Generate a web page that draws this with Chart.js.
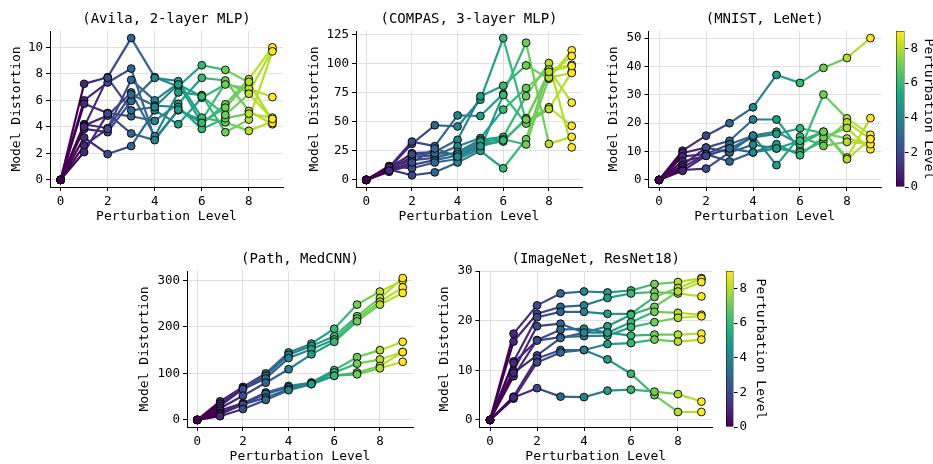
<!DOCTYPE html>
<html>
<head>
<meta charset="utf-8">
<script src="https://cdn.jsdelivr.net/npm/chart.js@4.4.0/dist/chart.umd.min.js"></script>
<style>
body { margin:0; background:#fff; width:933px; height:464px; overflow:hidden; position:relative; }
canvas { position:absolute; }
</style>
</head>
<body>
<script>
// perturbation levels (x) and shared ticks
const levels = [0, 1, 2, 3, 4, 5, 6, 7, 8, 9];
const xTicks = [0, 2, 4, 6, 8];
const cbTicks = [0, 2, 4, 6, 8];
const xLabel = 'Perturbation Level';
const yLabel = 'Model Distortion';

const avilaTitle = '(Avila, 2-layer MLP)';
const avilaTicks = [0, 2, 4, 6, 8, 10];
const avila = [
  [0, 7.25, 7.75, 10.7, 7.75, 7.05, 8.65, 8.3, 7.35, 4.5],
  [0, 6.0, 7.35, 8.4, 3.1, 5.25, 4.5, 7.3, 6.6, 9.85],
  [0, 5.75, 5.05, 4.8, 4.45, 5.75, 7.7, 7.5, 5.2, 4.2],
  [0, 4.2, 3.9, 7.55, 6.0, 7.3, 4.25, 5.7, 7.6, 10.0],
  [0, 4.1, 4.85, 6.6, 3.3, 6.6, 6.4, 3.6, 4.55, 9.7],
  [0, 3.85, 3.6, 5.95, 7.7, 7.45, 4.7, 4.35, 3.7, 4.4],
  [0, 3.2, 1.95, 2.55, 5.25, 4.2, 6.2, 7.2, 6.9, 6.25],
  [0, 2.6, 3.85, 6.45, 5.6, 5.5, 3.85, 4.65, 5.0, 4.7],
  [0, 2.1, 5.0, 3.5, 3.0, 5.3, 4.3, 5.45, 7.4, 4.3],
  [0, 4.0, 7.7, 5.25, 5.5, 7.2, 6.3, 4.9, 6.5, 4.6]
];

const compasTitle = '(COMPAS, 3-layer MLP)';
const compasTicks = [0, 25, 50, 75, 100, 125];
const compas = [
  [0, 10, 31, 47, 46, 69, 122, 50.5, 62.5, 46.5],
  [0, 11, 33, 29, 55.5, 55, 74, 118, 31, 37],
  [0, 9, 23, 24, 34.5, 72, 81, 98.5, 87, 111.5],
  [0, 8, 20, 21, 29, 36, 60.5, 79, 95, 66.5],
  [0, 10, 17, 19, 24, 34.5, 37, 72, 100.5, 28],
  [0, 7, 13, 17, 21, 31, 33, 53, 90.5, 106.5],
  [0, 12, 10, 15, 18, 27, 73, 48.5, 61, 93],
  [0, 9, 4, 6.5, 15, 25, 10, 35, 95, 99],
  [0, 11, 22, 23, 22, 33, 35, 30.5, 88, 92],
  [0, 8, 15, 27, 20, 29, 34, 52, 93, 98]
];

const mnistTitle = '(MNIST, LeNet)';
const mnistTicks = [0, 10, 20, 30, 40, 50];
const mnist = [
  [0, 10.3, 15.6, 20, 25.6, 37, 34.2, 39.5, 43, 50],
  [0, 9.5, 11.4, 13.8, 21.3, 21.3, 10.6, 30.1, 21.7, 15.9],
  [0, 8.3, 9.1, 12.6, 15.6, 17, 12.6, 17, 7.9, 21.8],
  [0, 6.5, 8.5, 11.1, 15, 16.2, 18.2, 16.5, 14.6, 12.6],
  [0, 5.2, 11.4, 9.7, 12.4, 11.1, 9.7, 13.6, 20.3, 14.4],
  [0, 4.4, 9.1, 6.5, 9.7, 12.6, 8.7, 15, 18.3, 10.8],
  [0, 3.5, 4.0, 9.7, 15.6, 5.2, 15.3, 12, 13.4, 12.6],
  [0, 3.2, 8.5, 11.1, 9.7, 11.1, 13.8, 17, 7.3, 14.4]
];

const pathTitle = '(Path, MedCNN)';
const pathTicks = [0, 100, 200, 300];
const path = [
  [0, 40, 71, 100, 145, 164, 196, 248, 276, 300],
  [0, 35, 68, 95, 140, 159, 180, 223, 262, 305],
  [0, 30, 66, 89, 133, 152, 173, 218, 254, 285],
  [0, 25, 52, 80, 109, 141, 168, 212, 248, 273],
  [0, 20, 36, 59, 73, 80.5, 107, 135, 150, 168],
  [0, 15, 33, 56, 70, 79, 102, 121, 130, 146],
  [0, 12, 33, 48, 66, 77, 95, 102, 116, 146],
  [0, 8, 23.5, 43, 64, 77, 95, 98, 111, 125]
];

const imagenetTitle = '(ImageNet, ResNet18)';
const imagenetTicks = [0, 10, 20, 30];
const imagenet = [
  [0, 17.4, 23.1, 25.5, 25.9, 25.7, 26.1, 27.4, 27.8, 28.6],
  [0, 15.8, 21.4, 22.8, 23.1, 24.6, 25.5, 25.8, 25.5, 24.9],
  [0, 11.8, 20.7, 21.8, 21.8, 21.4, 21.4, 24.8, 26.6, 28.4],
  [0, 9.9, 18.9, 19.4, 17.6, 18.9, 21.2, 22.8, 25.9, 27.8],
  [0, 8.8, 16.1, 18.2, 18.4, 17.6, 19.7, 21.8, 21.6, 21.2],
  [0, 11.5, 16.0, 16.7, 16.9, 17.0, 18.7, 19.7, 20.6, 20.9],
  [0, 9.5, 13.0, 16.5, 17.6, 17.6, 17.0, 17.2, 17.2, 17.4],
  [0, 4.7, 12.4, 14.1, 14.1, 15.3, 15.5, 16.2, 15.8, 16.2],
  [0, 4.3, 11.6, 13.6, 14.1, 12.2, 9.3, 5.0, 1.6, 1.6],
  [0, 4.5, 6.4, 4.7, 4.6, 5.9, 6.1, 5.7, 5.2, 3.7]
];

const FONT = 'DejaVu Sans Mono';
const cbMax = levels[levels.length - 1];

const viridisStops = ['#440154','#482475','#414487','#355f8d','#2a788e','#21918c',
  '#22a884','#44bf70','#7ad151','#bddf26','#fde725'];

function hexToRgb(h) {
  return [parseInt(h.slice(1,3),16), parseInt(h.slice(3,5),16), parseInt(h.slice(5,7),16)];
}

function viridis(t) {
  t = Math.max(0, Math.min(1, t));
  const p = t * (viridisStops.length - 1);
  const i = Math.min(Math.floor(p), viridisStops.length - 2);
  const f = p - i;
  const a = hexToRgb(viridisStops[i]), b = hexToRgb(viridisStops[i + 1]);
  const c = a.map((v, k) => Math.round(v + (b[k] - v) * f));
  return 'rgb(' + c.join(',') + ')';
}

function addCanvas(left, top, w, h) {
  const c = document.createElement('canvas');
  c.width = Math.round(w);
  c.height = Math.round(h);
  c.style.left = left + 'px';
  c.style.top = top + 'px';
  document.body.appendChild(c);
  return c;
}

// box = [left, top, right, bottom] of the plot area, yLabX = centre of y label
function makePanel(title, lines, yTicks, box, yLabX) {
  const [L, T, R, B] = box;
  const cLeft = yLabX - 12, cTop = T - 34, cRight = R + 10, cBottom = B + 38;
  const canvas = addCanvas(cLeft, cTop, cRight - cLeft, cBottom - cTop);

  let hi = -Infinity, lo = Infinity;
  lines.forEach(l => l.forEach(v => { hi = Math.max(hi, v); lo = Math.min(lo, v); }));
  const yPad = (hi - lo) * 0.05;
  const xPad = (cbMax - levels[0]) * 0.05;

  const datasets = [];
  lines.forEach(line => {
    datasets.push({
      type: 'line',
      data: levels.map((x, i) => ({x: x, y: line[i]})),
      borderWidth: 2.2,
      borderColor: viridis(0),
      pointRadius: 0,
      tension: 0,
      order: 1,
      segment: { borderColor: ctx => viridis(ctx.p0.parsed.x / cbMax) }
    });
  });
  const pts = [];
  lines.forEach(line => levels.forEach((x, i) => pts.push({x: x, y: line[i]})));
  datasets.push({
    type: 'line',
    showLine: false,
    data: pts,
    order: 0,
    pointRadius: 3.9,
    pointBorderWidth: 0.9,
    pointBorderColor: '#000',
    pointBackgroundColor: ctx => viridis(ctx.raw ? ctx.raw.x / cbMax : 0)
  });

  new Chart(canvas, {
    type: 'line',
    data: { datasets: datasets },
    options: {
      responsive: false,
      animation: false,
      devicePixelRatio: 1,
      layout: { padding: { left: 0, top: T - cTop - 20.4, right: cRight - R, bottom: 0 } },
      plugins: {
        legend: { display: false },
        tooltip: { enabled: false },
        title: {
          display: true, text: title, color: '#000', fullSize: false,
          font: { family: FONT, size: 14, weight: 'normal' },
          padding: { top: 0, bottom: 3.6 }
        }
      },
      scales: {
        x: {
          type: 'linear', min: levels[0] - xPad, max: cbMax + xPad,
          afterBuildTicks: s => { s.ticks = xTicks.map(v => ({value: v})); },
          afterFit: s => { s.height = cBottom - B; },
          ticks: { color: '#000', font: { family: FONT, size: 12.5 }, padding: 3, maxRotation: 0, callback: v => String(v) },
          grid: { color: '#e0e0e0', lineWidth: 1, tickColor: '#000', tickLength: 4 },
          border: { display: true, color: '#000', width: 1 },
          title: { display: true, text: xLabel, color: '#000', font: { family: FONT, size: 13 }, padding: { top: 0, bottom: 0.7 } }
        },
        y: {
          type: 'linear', min: lo - yPad, max: hi + yPad,
          afterBuildTicks: s => { s.ticks = yTicks.map(v => ({value: v})); },
          afterFit: s => { s.width = L - cLeft; },
          ticks: { color: '#000', font: { family: FONT, size: 12.5 }, padding: 3, callback: v => String(v) },
          grid: { color: '#e0e0e0', lineWidth: 1, tickColor: '#000', tickLength: 4 },
          border: { display: true, color: '#000', width: 1 },
          title: { display: true, text: yLabel, color: '#000', font: { family: FONT, size: 13 }, padding: { top: 4.2, bottom: 0 } }
        }
      }
    }
  });
}

// box = [left, top, right, bottom] of the colour strip, labX = centre of its label
function makeColorbar(box, labX) {
  const [L, T, R, B] = box;
  const cRight = labX + 9, cTop = T - 15, cBottom = B + 15;
  const canvas = addCanvas(L, cTop, cRight - L, cBottom - cTop);
  new Chart(canvas, {
    type: 'bar',
    data: {
      labels: [''],
      datasets: [{
        data: [cbMax],
        barPercentage: 1,
        categoryPercentage: 1,
        borderColor: '#000',
        borderWidth: 0.8,
        borderSkipped: false,
        backgroundColor: ctx => {
          const chart = ctx.chart;
          if (!chart.chartArea) return viridis(0.5);
          const ys = chart.scales.y;
          const g = chart.ctx.createLinearGradient(0, ys.getPixelForValue(0), 0, ys.getPixelForValue(cbMax));
          for (let i = 0; i <= 20; i++) g.addColorStop(i / 20, viridis(i / 20));
          return g;
        }
      }]
    },
    options: {
      responsive: false,
      animation: false,
      devicePixelRatio: 1,
      layout: { padding: { left: 0, top: T - cTop, right: 0, bottom: cBottom - B } },
      plugins: { legend: { display: false }, tooltip: { enabled: false } },
      scales: {
        x: { display: false },
        y: {
          position: 'right', min: 0, max: cbMax,
          afterBuildTicks: s => { s.ticks = cbTicks.map(v => ({value: v})); },
          afterFit: s => { s.width = cRight - R; },
          ticks: { color: '#000', font: { family: FONT, size: 12.5 }, padding: 2, callback: v => String(v) },
          grid: { drawOnChartArea: false, tickColor: '#000', tickLength: 4 },
          border: { display: false },
          title: { display: true, text: xLabel, color: '#000', font: { family: FONT, size: 13 }, padding: { top: 1.2, bottom: 0 } }
        }
      }
    }
  });
}

makePanel(avilaTitle, avila, avilaTicks, [50, 30.5, 283, 186.5], 17);
makePanel(compasTitle, compas, compasTicks, [356, 30.5, 582, 186.5], 315);
makePanel(mnistTitle, mnist, mnistTicks, [648.5, 30.5, 881, 186.5], 614);
makeColorbar([896, 30.5, 904.5, 186.5], 928);
makePanel(pathTitle, path, pathTicks, [187, 270.5, 413, 426.5], 145);
makePanel(imagenetTitle, imagenet, imagenetTicks, [479.5, 270.5, 711.5, 426.5], 445);
makeColorbar([726, 270.5, 733.5, 426.5], 760);
</script>
</body>
</html>
